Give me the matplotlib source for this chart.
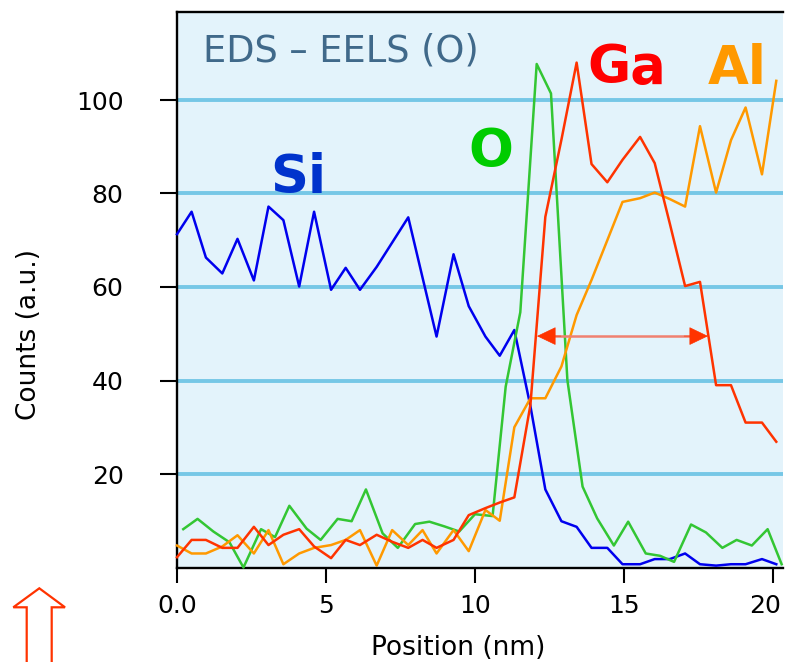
import matplotlib
matplotlib.use("Agg")
import matplotlib.pyplot as plt
from matplotlib.patches import Polygon
from matplotlib.transforms import ScaledTranslation

# ---------------- data ----------------
pos = [0.0, 0.49, 0.97, 1.52, 2.03, 2.58, 3.07, 3.57, 4.1, 4.6,
       5.17, 5.66, 6.14, 6.7, 7.22, 7.76, 8.24, 8.71, 9.28, 9.79,
       10.35, 10.83, 11.32, 11.86, 12.36, 12.9, 13.41, 13.91, 14.44, 14.95,
       15.54, 16.03, 16.54, 17.05, 17.55, 18.09, 18.59, 19.08, 19.63, 20.11]
si = [71.3, 76.1, 66.3, 62.9, 70.3, 61.4, 77.2, 74.3, 60.1, 76.1,
      59.4, 64.1, 59.4, 64.3, 69.5, 74.9, 62.0, 49.4, 67.0, 55.9,
      49.4, 45.3, 50.8, 34.5, 16.7, 9.9, 8.7, 4.2, 4.2, 0.7,
      0.7, 1.8, 1.8, 3.0, 0.7, 0.4, 0.7, 0.7, 1.8, 0.7]
ga = [2.2, 5.9, 5.9, 4.2, 4.2, 8.7, 4.8, 7.0, 8.2, 4.5,
      2.0, 5.9, 4.8, 7.0, 5.5, 4.2, 5.9, 4.2, 5.9, 11.2,
      12.7, 13.9, 15.0, 34.8, 75.0, 91.5, 108.0, 86.3, 82.4, 87.2,
      92.1, 86.5, 73.5, 60.2, 61.1, 39.0, 39.0, 31.0, 31.0, 26.9]
al = [4.7, 3.0, 3.0, 4.5, 6.9, 3.0, 8.0, 0.7, 3.0, 4.2,
      4.8, 5.9, 8.0, 0.4, 8.0, 4.8, 8.0, 3.0, 8.0, 3.5,
      12.3, 10.0, 30.0, 36.2, 36.2, 43.0, 54.0, 61.5, 70.0, 78.2,
      79.0, 80.2, 78.8, 77.2, 94.4, 80.2, 91.4, 98.4, 84.1, 104.1]
pos_o = [0.21, 0.69, 1.22, 1.76, 2.23, 2.82, 3.29, 3.77, 4.35, 4.82,
         5.39, 5.86, 6.34, 6.9, 7.41, 7.99, 8.47, 8.97, 9.47, 10.0,
         10.59, 11.03, 11.52, 12.07, 12.55, 13.1, 13.61, 14.1, 14.66, 15.14,
         15.73, 16.21, 16.68, 17.25, 17.75, 18.3, 18.78, 19.29, 19.82, 20.29]
o = [8.2, 10.4, 7.7, 5.4, 0.0, 8.2, 6.5, 13.2, 8.3, 5.9,
     10.4, 9.9, 16.7, 7.3, 4.2, 9.3, 9.8, 8.8, 7.7, 11.4,
     11.0, 38.7, 54.6, 107.7, 101.4, 40.1, 17.3, 10.5, 4.7, 9.8,
     3.0, 2.5, 1.2, 9.2, 7.5, 4.2, 5.9, 4.7, 8.2, 0.7]

x_ticks = [0, 5, 10, 15, 20]
x_tick_labels = ["0.0", "5", "10", "15", "20"]
y_ticks = [20, 40, 60, 80, 100]
title = "EDS \u2013 EELS (O)"
width_arrow = (12.08, 17.82, 49.5)   # left tip, right tip, level

# ---------------- figure ----------------
W, H = 785, 662
fig = plt.figure(figsize=(W / 100, H / 100), dpi=100)
plt.rcParams['font.family'] = ['DejaVu Sans']
L, R, T, B = 177, 783, 12, 567.5
ax = fig.add_axes([L / W, 1 - B / H, (R - L) / W, (B - T) / H])
ax.set_facecolor('#e3f3fb')
ax.set_xlim(0, (R - L) / 29.8)
ax.set_ylim(0, (B - T) / 4.675)

ax.set_yticks(y_ticks)
ax.set_xticks(x_ticks)
ax.set_xticklabels(x_tick_labels)
ax.yaxis.grid(True, color='#76c7e6', lw=2.8)
ax.set_axisbelow(True)

for side in ['left', 'top', 'bottom']:
    ax.spines[side].set_linewidth(1.7)
    ax.spines[side].set_color('black')
ax.spines['right'].set_visible(False)

ax.tick_params(axis='y', direction='out', length=12.5, width=1.5, pad=26, labelsize=18)
ax.tick_params(axis='x', direction='out', length=11, width=1.5, pad=8, labelsize=18)

# nudge the last x tick label so it stays inside the figure
last = ax.get_xticklabels()[-1]
last.set_transform(last.get_transform() + ScaledTranslation(-6 / 72, 0, fig.dpi_scale_trans))

lw = 1.8
ax.plot(pos, si, color='#0000ee', lw=lw, clip_on=False, zorder=3)
ax.plot(pos_o, o, color='#33c633', lw=lw, clip_on=False, zorder=3)
ax.plot(pos, al, color='#ff9900', lw=lw, clip_on=False, zorder=3)
ax.plot(pos, ga, color='#ff3300', lw=lw, clip_on=False, zorder=4)

# element labels
fs_el = 38
ax.text(4.06, 80.2, "Si", color='#0033cc', fontsize=fs_el, fontweight='bold', ha='center', va='baseline')
ax.text(10.54, 85.6, "O", color='#00cc00', fontsize=fs_el, fontweight='bold', ha='center', va='baseline')
ax.text(15.1, 103.6, "Ga", color='#ff0000', fontsize=fs_el, fontweight='bold', ha='center', va='baseline')
ax.text(18.79, 103.4, "Al", color='#ff9900', fontsize=fs_el, fontweight='bold', ha='center', va='baseline')
ax.text(0.87, 108.3, title, color='#40698a', fontsize=26.5, ha='left', va='baseline')

# width arrow
xa, xb, ya = width_arrow
ax.plot([xa + 0.5, xb - 0.5], [ya, ya], color='#f08070', lw=1.8, zorder=5)
for tip, tail in [(xa, xa + 0.8), (xb, xb - 0.8)]:
    ax.annotate('', xy=(tip, ya), xytext=(tail, ya),
                arrowprops=dict(arrowstyle='-|>,head_length=1.25,head_width=0.6',
                                color='#ff3300', lw=0.5, shrinkA=0, shrinkB=0),
                zorder=6)

ax.set_xlabel("Position (nm)", fontsize=19)
ax.set_ylabel("Counts (a.u.)", fontsize=19)
ax.xaxis.set_label_coords((458 - L) / (R - L), (B - 635) / (B - T))
ax.yaxis.set_label_coords((42 - L) / (R - L), (B - 335) / (B - T))

# hollow up-arrow at bottom-left (figure pixel coordinates)
arrow_px = [(39.3, 588.3), (65, 607.3), (51.7, 607.3), (51.7, 664),
            (26.7, 664), (26.7, 607.3), (13.3, 607.3)]
poly = Polygon([(x / W, 1 - y / H) for x, y in arrow_px], closed=True,
               transform=fig.transFigure, facecolor='white', edgecolor='#ff3300', lw=1.6)
fig.patches.append(poly)

fig.savefig("out.png", dpi=100)
